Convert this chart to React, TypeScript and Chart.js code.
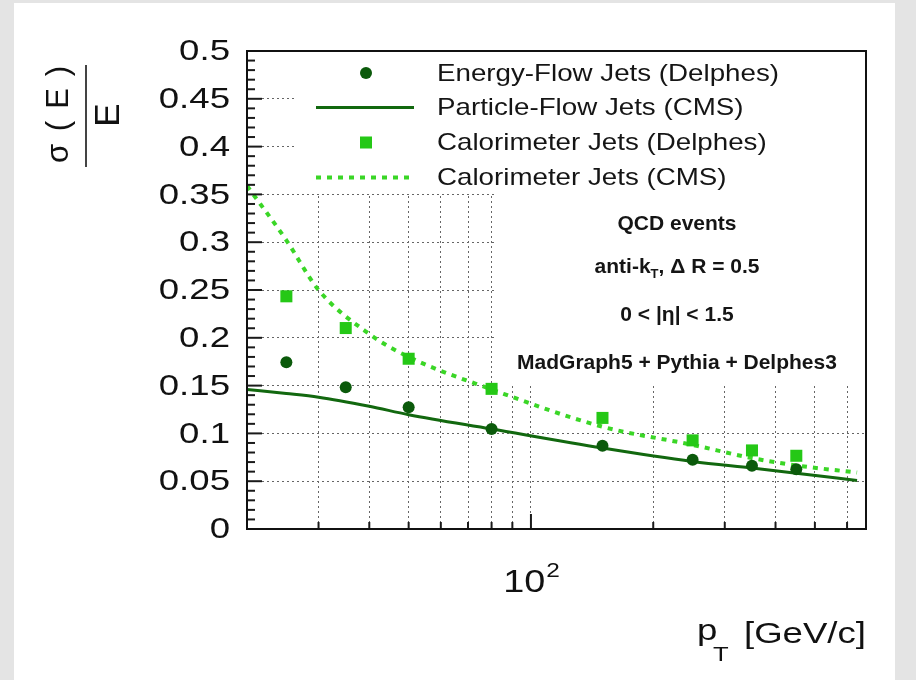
import React, { useEffect, useRef } from 'react';
import { Chart, registerables } from 'chart.js';

Chart.register(...registerables);

// ---- data ----
const ptBins = [25, 35, 50, 80, 150, 250, 350, 450];
const energyFlowDelphes = [0.1745, 0.1483, 0.1273, 0.1046, 0.0871, 0.0724, 0.0661, 0.0626];
const caloDelphes = [0.2434, 0.2102, 0.1781, 0.1466, 0.1162, 0.0927, 0.0822, 0.0766];

const curvePt = [20, 25, 30, 40, 50, 80, 150, 250, 350, 450, 635];
const particleFlowCMS = [0.1459, 0.1417, 0.1378, 0.1283, 0.1196, 0.1046, 0.0847, 0.0706, 0.0637, 0.0584, 0.0508];
const caloCMS = [0.359, 0.302, 0.25, 0.204, 0.18, 0.146, 0.107, 0.088, 0.0742, 0.0665, 0.059];

const legendLabels = [
  'Energy-Flow Jets (Delphes)',
  'Particle-Flow Jets (CMS)',
  'Calorimeter Jets (Delphes)',
  'Calorimeter Jets (CMS)',
];
const yTickLabels = ['0', '0.05', '0.1', '0.15', '0.2', '0.25', '0.3', '0.35', '0.4', '0.45', '0.5'];
const xGridValues = [30, 40, 50, 60, 70, 80, 90, 100, 200, 300, 400, 500, 600];
const xMajorLabel = { value: 100, base: '10', exp: '2' };

const DARK = '#0b5a0b';
const DARK_LINE = '#12680f';
const LIGHT = '#25c816';
const LIGHT_LINE = '#3ad626';
const GRID = '#666666';
const FONT = "'Liberation Sans', Arial, Helvetica, sans-serif";
const SX = 1.22;
const SX_LEGEND = 1.155;

function sText(ctx: CanvasRenderingContext2D, text: string, x: number, y: number, align: string, font: string, sx: number) {
  ctx.save();
  ctx.font = font;
  const w = ctx.measureText(text).width * sx;
  let left = x;
  if (align === 'right') left = x - w;
  else if (align === 'center') left = x - w / 2;
  ctx.translate(left, y);
  ctx.scale(sx, 1);
  ctx.textAlign = 'left';
  ctx.fillText(text, 0, 0);
  ctx.restore();
  return w;
}

const decor = {
  id: 'decor',
  beforeDatasetsDraw(chart: any) {
    const { ctx, chartArea } = chart;
    ctx.save();
    ctx.fillStyle = '#ffffff';
    // legend pave and info pave (white, hide the grid behind them)
    ctx.fillRect(294, chartArea.top + 1, chartArea.right - 294 - 1, 194 - chartArea.top - 1);
    ctx.fillRect(494, 194, chartArea.right - 494 - 1, 386 - 194);
    ctx.restore();
  },
  afterDatasetsDraw(chart: any) {
    const { ctx, chartArea } = chart;
    const xs = chart.scales.x;
    const ys = chart.scales.y;
    const { left, right, top, bottom } = chartArea;
    ctx.save();

    // inward ticks
    ctx.strokeStyle = '#1a1a1a';
    ctx.lineWidth = 2;
    for (let i = 0; i <= 50; i++) {
      const py = ys.getPixelForValue(i / 100);
      const len = i % 5 === 0 ? 15 : 8;
      ctx.beginPath();
      ctx.moveTo(left, py);
      ctx.lineTo(left + len, py);
      ctx.stroke();
    }
    for (const v of xGridValues) {
      const px = xs.getPixelForValue(v);
      const len = v === 100 ? 15 : 7;
      ctx.beginPath();
      ctx.moveTo(px, bottom);
      ctx.lineTo(px, bottom - len);
      ctx.stroke();
    }

    // frame
    ctx.strokeStyle = '#111';
    ctx.lineWidth = 2;
    ctx.strokeRect(left, top, right - left, bottom - top);

    // legend
    const ds = chart.data.datasets;
    const rows = [73, 107.5, 142.5, 177.5];
    const mx = 366;
    ctx.fillStyle = ds[0].backgroundColor;
    ctx.beginPath();
    ctx.arc(mx, rows[0], 6, 0, Math.PI * 2);
    ctx.fill();
    ctx.strokeStyle = ds[1].borderColor;
    ctx.lineWidth = ds[1].borderWidth;
    ctx.beginPath();
    ctx.moveTo(316, rows[1]);
    ctx.lineTo(414, rows[1]);
    ctx.stroke();
    ctx.fillStyle = ds[2].backgroundColor;
    ctx.fillRect(mx - 6, rows[2] - 6, 12, 12);
    ctx.strokeStyle = ds[3].borderColor;
    ctx.lineWidth = ds[3].borderWidth;
    ctx.setLineDash(ds[3].borderDash);
    ctx.beginPath();
    ctx.moveTo(316, rows[3]);
    ctx.lineTo(414, rows[3]);
    ctx.stroke();
    ctx.setLineDash([]);

    ctx.fillStyle = '#151515';
    ctx.textBaseline = 'middle';
    legendLabels.forEach((t, i) => sText(ctx, t, 437, rows[i] + 1, 'left', `24px ${FONT}`, SX_LEGEND));

    // info pave
    ctx.textBaseline = 'alphabetic';
    const bold = (s: number) => `bold ${s}px ${FONT}`;
    const cx = 677;
    sText(ctx, 'QCD events', cx, 230, 'center', bold(21), 1);
    {
      ctx.font = bold(21);
      const w1 = ctx.measureText('anti-k').width;
      const w3 = ctx.measureText(', \u0394 R = 0.5').width;
      ctx.font = bold(13);
      const w2 = ctx.measureText('T').width;
      const x0 = cx - (w1 + w2 + w3) / 2;
      sText(ctx, 'anti-k', x0, 273, 'left', bold(21), 1);
      sText(ctx, 'T', x0 + w1, 278, 'left', bold(13), 1);
      sText(ctx, ', \u0394 R = 0.5', x0 + w1 + w2, 273, 'left', bold(21), 1);
    }
    sText(ctx, '0 < |\u03b7| < 1.5', cx, 321, 'center', bold(21), 1);
    sText(ctx, 'MadGraph5 + Pythia + Delphes3', cx, 369, 'center', bold(21), 1);

    // y tick labels
    ctx.fillStyle = '#111';
    ctx.textBaseline = 'middle';
    for (const lab of yTickLabels) {
      const py = ys.getPixelForValue(parseFloat(lab));
      sText(ctx, lab, 230, py + 1, 'right', `30px ${FONT}`, SX);
    }

    // x tick label 10^2
    ctx.textBaseline = 'alphabetic';
    {
      const px = xs.getPixelForValue(xMajorLabel.value);
      ctx.font = `31px ${FONT}`;
      const wb = ctx.measureText(xMajorLabel.base).width * SX;
      ctx.font = `20px ${FONT}`;
      const we = ctx.measureText(xMajorLabel.exp).width * SX;
      const x0 = px - (wb + we) / 2;
      sText(ctx, xMajorLabel.base, x0, 592, 'left', `31px ${FONT}`, SX);
      sText(ctx, xMajorLabel.exp, x0 + wb + 1, 577, 'left', `20px ${FONT}`, SX);
    }

    // x title
    sText(ctx, '[GeV/c]', right, 643, 'right', `30px ${FONT}`, SX);
    sText(ctx, 'p', 697, 640, 'left', `30px ${FONT}`, SX);
    sText(ctx, 'T', 713, 661, 'left', `21px ${FONT}`, SX);

    // y title  sigma(E)/E, rotated
    const glyph = (t: string, bx: number, cy: number, size: number) => {
      ctx.save();
      ctx.translate(bx, cy);
      ctx.rotate(-Math.PI / 2);
      ctx.font = `${size}px ${FONT}`;
      ctx.textAlign = 'center';
      ctx.textBaseline = 'alphabetic';
      ctx.fillText(t, 0, 0);
      ctx.restore();
    };
    glyph('\u03c3', 68, 153.5, 31);
    glyph('(', 68, 126, 31);
    glyph('E', 68, 98.5, 31);
    glyph(')', 68, 71, 31);
    ctx.strokeStyle = '#444';
    ctx.lineWidth = 2;
    ctx.beginPath();
    ctx.moveTo(86, 65);
    ctx.lineTo(86, 167);
    ctx.stroke();
    glyph('E', 119, 115, 35);

    ctx.restore();
  },
};

export default function App() {
  const ref = useRef<HTMLCanvasElement>(null);

  useEffect(() => {
    const canvas = ref.current;
    if (!canvas) return;
    const chart = new Chart(canvas, {
      type: 'scatter',
      data: {
        datasets: [
          {
            label: legendLabels[0],
            data: ptBins.map((x, i) => ({ x, y: energyFlowDelphes[i] })),
            pointStyle: 'circle',
            pointRadius: 6,
            pointBorderWidth: 0,
            backgroundColor: DARK,
            borderColor: DARK,
            showLine: false,
            order: 0,
          },
          {
            label: legendLabels[1],
            data: curvePt.map((x, i) => ({ x, y: particleFlowCMS[i] })),
            showLine: true,
            pointRadius: 0,
            borderColor: DARK_LINE,
            backgroundColor: DARK_LINE,
            borderWidth: 3,
            cubicInterpolationMode: 'monotone',
            order: 2,
          },
          {
            label: legendLabels[2],
            data: ptBins.map((x, i) => ({ x, y: caloDelphes[i] })),
            pointStyle: 'rect',
            pointRadius: 8.5,
            pointBorderWidth: 0,
            backgroundColor: LIGHT,
            borderColor: LIGHT,
            showLine: false,
            order: 1,
          },
          {
            label: legendLabels[3],
            data: curvePt.map((x, i) => ({ x, y: caloCMS[i] })),
            showLine: true,
            pointRadius: 0,
            borderColor: LIGHT_LINE,
            backgroundColor: LIGHT_LINE,
            borderWidth: 4,
            borderDash: [5, 6],
            cubicInterpolationMode: 'monotone',
            order: 3,
          },
        ],
      },
      options: {
        responsive: false,
        devicePixelRatio: 1,
        animation: false,
        layout: { padding: { left: 0, top: 51, right: 50, bottom: 151 } },
        plugins: {
          legend: { display: false },
          tooltip: { enabled: false },
        },
        scales: {
          x: {
            type: 'logarithmic',
            min: 20,
            max: 668,
            ticks: { display: false },
            border: { display: false, dash: [2, 3] },
            grid: {
              drawTicks: false,
              lineWidth: 1,
              color: (c: any) => {
                const v = c.tick ? c.tick.value : 0;
                return xGridValues.some((g) => Math.abs(g - v) / g < 1e-6) ? GRID : 'rgba(0,0,0,0)';
              },
            },
            afterFit: (s: any) => {
              s.height = 0;
            },
          },
          y: {
            type: 'linear',
            min: 0,
            max: 0.5,
            ticks: { display: false, stepSize: 0.05 },
            border: { display: false, dash: [2, 3] },
            grid: {
              drawTicks: false,
              lineWidth: 1,
              color: (c: any) => {
                const v = c.tick ? c.tick.value : 0;
                return v > 0.01 && v < 0.49 ? GRID : 'rgba(0,0,0,0)';
              },
            },
            afterFit: (s: any) => {
              s.width = 247;
            },
          },
        },
      } as any,
      plugins: [decor],
    });
    return () => chart.destroy();
  }, []);

  return (
    <div style={{ position: 'fixed', left: 0, top: 0, width: 916, height: 680, background: '#e4e4e4', overflow: 'hidden' }}>
      <div style={{ position: 'absolute', left: 14, top: 3, width: 881, height: 677, background: '#ffffff' }} />
      <canvas ref={ref} width={916} height={680} style={{ position: 'absolute', left: 0, top: 0, width: 916, height: 680 }} />
    </div>
  );
}
